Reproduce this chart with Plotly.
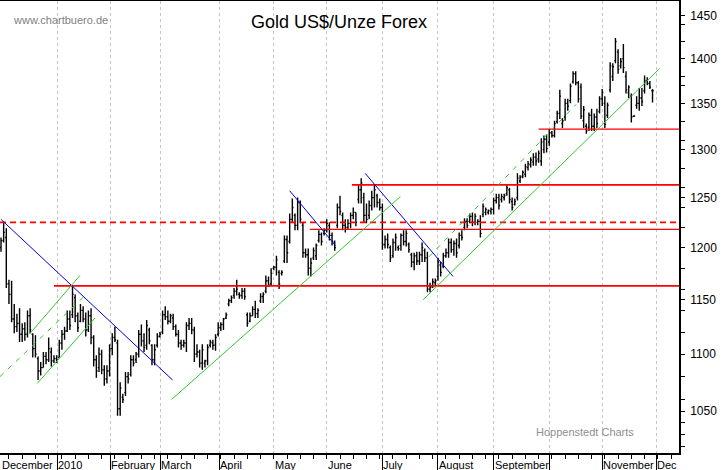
import numpy as np
import plotly.graph_objects as go

# daily bars, Dec 2009 - Nov 2010
opens = [
    1200,1207,1210,1165,1155,1132,1125,1128,1118,1123,
    1118,1135,1118,1105,1096,1085,1088,1098,1095,1102,
    1094,1096,1097,1110,1118,1121,1132,1136,1152,1135,
    1130,1140,1132,1122,1135,1115,1095,1088,1100,1086,
    1078,1085,1105,1115,1110,1052,1062,1066,1080,1082,
    1095,1095,1100,1118,1112,1108,1122,1108,1095,1108,
    1116,1120,1136,1134,1130,1133,1125,1118,1110,1108,
    1110,1126,1128,1122,1100,1102,1092,1092,1094,1108,
    1110,1108,1118,1124,1127,1133,1146,1149,1154,1158,
    1155,1154,1158,1136,1130,1135,1141,1137,1149,1153,
    1158,1168,1165,1180,1181,1176,1175,1187,1208,1206,
    1228,1232,1222,1245,1222,1195,1193,1180,1190,1192,
    1207,1213,1214,1217,1222,1212,1204,1222,1240,1232,
    1222,1220,1224,1232,1235,1248,1258,1250,1232,1232,
    1242,1250,1252,1245,1240,1203,1208,1200,1192,1205,
    1200,1202,1212,1206,1203,1193,1186,1192,1187,1193,
    1197,1190,1160,1162,1166,1172,1183,1182,1192,1195,
    1205,1198,1204,1202,1212,1220,1226,1226,1231,1225,
    1225,1226,1233,1235,1235,1236,1238,1247,1250,1248,
    1250,1254,1258,1246,1243,1250,1267,1272,1274,1281,
    1284,1287,1292,1290,1288,1300,1311,1308,1318,1315,
    1330,1339,1328,1335,1350,1353,1374,1383,1373,1368,
    1331,1325,1324,1337,1325,1335,1341,1355,1350,1337,
    1365,1380,1398,1408,1392,1400,1380,1362,1358,1336,
    1348,1350,1356,1364,1375,1372,1364,
]
highs = [
    1210,1225,1219,1169,1168,1146,1137,1142,1128,1129,
    1140,1142,1119,1117,1098,1093,1102,1102,1115,1106,
    1099,1099,1113,1122,1125,1140,1140,1162,1155,1138,
    1146,1144,1138,1140,1142,1117,1099,1106,1104,1090,
    1090,1109,1119,1125,1113,1075,1065,1084,1084,1099,
    1099,1102,1122,1127,1119,1131,1124,1109,1109,1119,
    1120,1140,1144,1140,1137,1137,1127,1122,1113,1113,
    1129,1133,1133,1125,1109,1104,1109,1095,1109,1113,
    1113,1118,1129,1129,1133,1138,1151,1154,1161,1169,
    1157,1161,1161,1138,1138,1144,1149,1142,1156,1157,
    1173,1172,1180,1182,1192,1178,1178,1212,1212,1234,
    1249,1234,1250,1247,1225,1199,1199,1190,1200,1204,
    1217,1215,1219,1228,1225,1215,1207,1244,1252,1235,
    1228,1228,1235,1240,1235,1263,1270,1255,1244,1247,
    1257,1263,1254,1249,1244,1212,1214,1202,1209,1214,
    1202,1214,1217,1217,1205,1195,1195,1196,1196,1205,
    1199,1196,1166,1170,1170,1190,1186,1195,1199,1209,
    1209,1207,1209,1215,1217,1229,1229,1234,1235,1234,
    1228,1232,1244,1240,1238,1240,1250,1254,1254,1254,
    1254,1263,1260,1250,1249,1275,1273,1278,1285,1288,
    1292,1296,1297,1299,1312,1315,1316,1322,1320,1331,
    1342,1365,1334,1355,1355,1372,1386,1386,1375,1372,
    1347,1328,1340,1344,1339,1344,1358,1366,1358,1351,
    1396,1395,1424,1411,1401,1417,1386,1370,1361,1337,
    1358,1367,1367,1381,1379,1375,1366,
]
lows = [
    1196,1205,1161,1146,1129,1119,1120,1111,1111,1112,
    1115,1119,1097,1097,1077,1081,1088,1091,1093,1089,
    1092,1092,1097,1104,1113,1120,1122,1133,1129,1120,
    1129,1129,1116,1120,1109,1089,1079,1084,1082,1072,
    1074,1080,1099,1111,1046,1046,1057,1063,1074,1080,
    1089,1092,1097,1107,1102,1104,1109,1090,1090,1106,
    1115,1118,1131,1127,1128,1122,1116,1106,1104,1106,
    1102,1122,1118,1093,1097,1088,1086,1088,1090,1106,
    1104,1103,1116,1121,1122,1132,1144,1147,1151,1154,
    1151,1151,1150,1125,1129,1135,1133,1133,1147,1147,
    1156,1162,1163,1178,1173,1160,1173,1185,1185,1204,
    1225,1217,1217,1224,1190,1190,1173,1172,1188,1188,
    1205,1202,1212,1215,1207,1202,1197,1219,1232,1217,
    1215,1218,1219,1228,1221,1244,1244,1225,1224,1228,
    1237,1240,1240,1237,1198,1199,1199,1186,1190,1197,
    1197,1197,1202,1201,1195,1181,1178,1183,1183,1186,
    1186,1157,1157,1161,1163,1168,1172,1180,1190,1190,
    1195,1192,1190,1199,1207,1217,1219,1224,1221,1222,
    1222,1210,1230,1232,1233,1233,1233,1244,1238,1245,
    1247,1252,1244,1237,1242,1247,1265,1270,1271,1278,
    1281,1283,1283,1286,1283,1296,1297,1304,1313,1313,
    1328,1333,1323,1331,1342,1350,1372,1370,1351,1333,
    1323,1317,1320,1320,1320,1323,1339,1347,1323,1334,
    1362,1375,1395,1383,1389,1384,1361,1356,1329,1335,
    1344,1342,1347,1361,1370,1366,1351,
]
closes = [
    1207,1215,1165,1155,1132,1125,1128,1118,1123,1118,
    1135,1122,1105,1100,1085,1088,1098,1095,1105,1094,
    1096,1095,1110,1118,1121,1132,1126,1155,1135,1124,
    1140,1132,1122,1135,1115,1095,1085,1100,1086,1078,
    1085,1105,1115,1113,1052,1070,1060,1080,1078,1095,
    1092,1100,1118,1112,1106,1126,1112,1095,1104,1116,
    1118,1136,1134,1130,1135,1125,1118,1110,1108,1110,
    1126,1128,1122,1100,1102,1092,1104,1094,1106,1111,
    1108,1115,1124,1127,1132,1136,1149,1152,1158,1160,
    1154,1158,1153,1128,1135,1141,1137,1140,1153,1155,
    1168,1164,1175,1181,1188,1165,1176,1208,1195,1228,
    1240,1222,1245,1228,1195,1193,1180,1185,1197,1202,
    1213,1206,1217,1224,1212,1206,1200,1240,1236,1222,
    1220,1224,1232,1235,1225,1258,1265,1232,1228,1242,
    1250,1258,1245,1240,1203,1208,1203,1190,1205,1210,
    1199,1212,1206,1214,1198,1186,1192,1187,1193,1200,
    1190,1160,1162,1167,1168,1186,1176,1192,1195,1205,
    1198,1204,1195,1212,1210,1226,1222,1231,1225,1231,
    1226,1214,1241,1238,1237,1238,1247,1250,1242,1251,
    1252,1260,1248,1240,1246,1270,1271,1276,1282,1285,
    1289,1292,1288,1296,1308,1311,1301,1318,1315,1328,
    1339,1358,1331,1350,1347,1369,1383,1373,1355,1336,
    1343,1320,1337,1325,1335,1328,1355,1362,1327,1348,
    1392,1391,1420,1388,1397,1390,1365,1368,1335,1336,
    1350,1356,1352,1375,1372,1368,1364,
]
bar_index = list(range(len(closes)))

month_ticks = [21.3, 41.3, 60.2, 82.4, 103, 123, 144, 165, 186, 207, 227, 247.4]
month_labels = ["December", "2010", "February", "March", "April", "May", "June",
                "July", "August", "September", "", "November", "Dec"]
month_label_pos = [0] + month_ticks
week_ticks = list(range(3, 256, 5))

price_ticks = [1050, 1100, 1150, 1200, 1250, 1300, 1350, 1400, 1450]
price_minor = [1020, 1030, 1040, 1060, 1080, 1120, 1140, 1160, 1180, 1220, 1240, 1260,
               1280, 1310, 1330, 1370, 1380, 1420, 1440]
x_range = [-0.38, 256]
y_range = [1014.7, 1467.7]

# horizontal levels: first bar, price, line width
red_solid = [(20, 1163, 1.8), (132.5, 1263, 1.8), (116.6, 1218, 1.2), (203, 1322, 1.2)]
red_dash = [(-0.38, 1225, 1.8)]

# trend lines: x pair, price pair
blue_lines = [
    ([0, 64.8], [1228, 1077]),
    ([109, 126.3], [1257, 1202]),
    ([137.5, 170.7], [1275, 1172]),
]
green_lines = [
    ([13.7, 35.5], [1074, 1133]),
    ([10.7, 29.8], [1118, 1173]),
    ([64.4, 150.8], [1060, 1251]),
    ([159.4, 248.7], [1150, 1389]),
]
green_dash = [
    ([-0.38, 32.6], [1080, 1156]),
    ([161.6, 217.2], [1191, 1349]),
]

FONT = "Liberation Sans"
PLOT_W = 679.0
PLOT_H = 452.0


def place(px, py):
    # window pixels -> paper fractions of the plot area
    return px / PLOT_W, (453 - py) / PLOT_H


fig = go.Figure()
fig.add_trace(go.Ohlc(
    x=bar_index, open=opens, high=highs, low=lows, close=closes,
    increasing=dict(line=dict(color="black", width=1.4)),
    decreasing=dict(line=dict(color="black", width=1.4)),
    tickwidth=0.45,
    hoverinfo="skip",
))

for start, level, w in red_solid:
    fig.add_trace(go.Scatter(x=[start, x_range[1]], y=[level, level], mode="lines",
                             line=dict(color="#ff0000", width=w)))
for start, level, w in red_dash:
    fig.add_trace(go.Scatter(x=[start, x_range[1]], y=[level, level], mode="lines",
                             line=dict(color="#ff0000", width=w, dash="6px,4px")))
for xs, ys in blue_lines:
    fig.add_trace(go.Scatter(x=xs, y=ys, mode="lines", line=dict(color="#0000e0", width=1)))
for xs, ys in green_lines:
    fig.add_trace(go.Scatter(x=xs, y=ys, mode="lines", line=dict(color="#30c830", width=1)))
for xs, ys in green_dash:
    fig.add_trace(go.Scatter(x=xs, y=ys, mode="lines",
                             line=dict(color="#30c830", width=1, dash="5px,6px")))

fig.update_layout(
    width=723, height=470,
    margin=dict(l=0, r=44, t=1, b=17),
    paper_bgcolor="white", plot_bgcolor="white",
    showlegend=False,
    font=dict(family=FONT, size=12, color="black"),
)
fig.update_xaxes(
    range=x_range, rangeslider_visible=False,
    tickmode="array", tickvals=month_ticks, ticktext=[""] * len(month_ticks),
    ticks="outside", ticklen=16, tickcolor="black", tickwidth=1,
    showgrid=True, gridcolor="#c4c4c4", griddash="3px,3px", gridwidth=1,
    showline=True, linecolor="black", linewidth=1.5, mirror=True,
    zeroline=False,
    minor=dict(tickmode="array", tickvals=week_ticks, ticks="outside", ticklen=4,
               tickcolor="black", showgrid=False),
)
fig.update_yaxes(
    type="log", range=list(np.log10(y_range)), side="right",
    tickmode="array", tickvals=price_ticks, ticktext=[str(p) for p in price_ticks],
    ticks="outside", ticklen=4, tickcolor="black", tickwidth=1, ticklabelstandoff=3,
    tickfont=dict(family=FONT, size=12, color="black"),
    showgrid=False, zeroline=False,
    showline=True, linecolor="black", linewidth=1.5,
    minor=dict(tickmode="array", tickvals=price_minor, ticks="outside", ticklen=4,
               tickcolor="black", showgrid=False),
)

for pos, label in zip(month_label_pos, month_labels):
    if label:
        fig.add_annotation(x=pos, y=0, xref="x", yref="paper", yshift=-5, text=label,
                           showarrow=False, xanchor="left", yanchor="top",
                           borderpad=0, font=dict(family=FONT, size=11, color="black"))

tx, ty = place(339, 22)
fig.add_annotation(x=tx, y=ty, xref="paper", yref="paper", text="Gold US$/Unze Forex",
                   showarrow=False, xanchor="center", yanchor="middle",
                   font=dict(family=FONT, size=18, color="black"))
tx, ty = place(60, 20)
fig.add_annotation(x=tx, y=ty, xref="paper", yref="paper", text="www.chartbuero.de",
                   showarrow=False, xanchor="center", yanchor="middle",
                   font=dict(family=FONT, size=11, color="#808080"))
tx, ty = place(585, 432)
fig.add_annotation(x=tx, y=ty, xref="paper", yref="paper", text="Hoppenstedt Charts",
                   showarrow=False, xanchor="center", yanchor="middle",
                   font=dict(family=FONT, size=11, color="#909090"))

fig.write_html("out.html", config=dict(displayModeBar=False),
               post_script="document.body.style.margin='0';")
